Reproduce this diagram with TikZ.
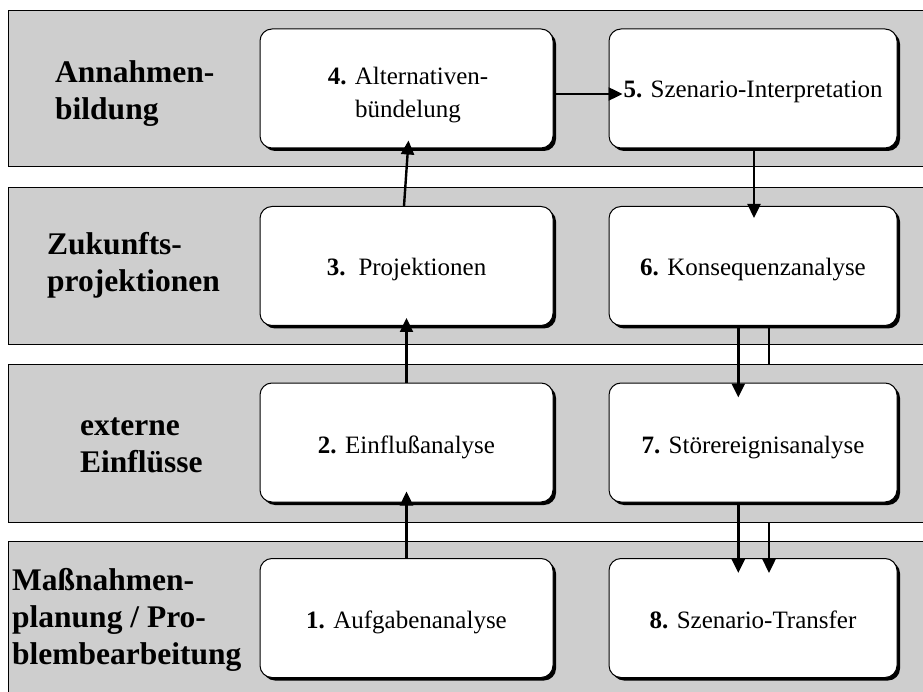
\documentclass[tikz,border=0pt]{standalone}
\usepackage{fontspec}
\setmainfont{Liberation Serif}
\usetikzlibrary{arrows.meta,shadows}
\definecolor{bandgray}{RGB}{206,206,206}
\tikzset{
  band/.style={draw=black, line width=0.9pt, fill=bandgray, anchor=north west,
    minimum width=930pt, inner sep=0pt},
  stepbox/.style={draw=black, line width=1pt, fill=white, rounded corners=12pt,
    minimum height=119pt, inner sep=0pt,
    drop shadow={shadow xshift=3pt, shadow yshift=-3pt, fill=black, opacity=1}},
  steptext/.style={inner sep=0pt, align=center, font=\fontsize{25}{32.5}\selectfont},
  lbl/.style={anchor=base west, inner sep=0pt, font=\fontsize{31.5}{37}\selectfont\bfseries},
  flow/.style={line width=2.4pt, -{Triangle[length=14pt,width=13pt]}},
  link/.style={line width=2.4pt},
}
\begin{document}
\begin{tikzpicture}[x=1pt,y=-1pt]
\useasboundingbox (0,0) rectangle (923,692);

% horizontal bands
\node[band, minimum height=156.5pt] (band1) at (8,10) {};
\node[band, minimum height=157pt]   (band2) at (8,187) {};
\node[band, minimum height=158pt]   (band3) at (8,363.5) {};
\node[band, minimum height=165pt]   (band4) at (8,540.5) {};

% band labels
\node[lbl] (l1a) at (55,83)  {Annahmen-};
\node[lbl] (l1b) at (55,120) {bildung};
\node[lbl] (l2a) at (47,255) {Zukunfts-};
\node[lbl] (l2b) at (47,292) {projektionen};
\node[lbl] (l3a) at (80,435) {externe};
\node[lbl] (l3b) at (80,472) {Einflüsse};
\node[lbl] (l4a) at (12,590) {Maßnahmen-};
\node[lbl] (l4b) at (12,627) {planung / Pro-};
\node[lbl] (l4c) at (12,664) {blembearbeitung};

% process step boxes
\node[stepbox, minimum width=293pt] (n4) at (406.5,88.5) {};
\node[stepbox, minimum width=288pt] (n5) at (753,88.5)   {};
\node[stepbox, minimum width=293pt] (n3) at (406.5,266)  {};
\node[stepbox, minimum width=288pt] (n6) at (753,266)    {};
\node[stepbox, minimum width=293pt] (n2) at (406.5,442.5) {};
\node[stepbox, minimum width=288pt] (n7) at (753,442.5)  {};
\node[stepbox, minimum width=293pt] (n1) at (406.5,618)  {};
\node[stepbox, minimum width=288pt] (n8) at (753,618)    {};

% step titles
\node[steptext] (t4) at (408,95) {\textbf{4.} Alternativen-\\bündelung};
\node[steptext, anchor=base] (t5) at (753,97.5) {\textbf{5.} Szenario-Interpretation};
\node[steptext, anchor=base] (t3) at (406.5,276) {\textbf{3.}\hspace{13pt}Projektionen};
\node[steptext, anchor=base] (t6) at (753,276) {\textbf{6.} Konsequenzanalyse};
\node[steptext, anchor=base] (t2) at (406.5,453) {\textbf{2.} Einflußanalyse};
\node[steptext, anchor=base] (t7) at (753,453) {\textbf{7.} Störereignisanalyse};
\node[steptext, anchor=base] (t1) at (406.5,628) {\textbf{1.} Aufgabenanalyse};
\node[steptext, anchor=base] (t8) at (753,628) {\textbf{8.} Szenario-Transfer};

% connectors
\draw[flow] (n1.north) -- ([yshift=11pt]n2.south);
\draw[flow] (n2.north) -- ([yshift=8pt]n3.south);
\draw[flow] ([xshift=-2.5pt]n3.north) -- ([xshift=2pt,yshift=8pt]n4.south);
\draw[flow] ([yshift=-5.5pt]n4.east) -- ([xshift=14pt,yshift=-5.5pt]n5.west);
\draw[flow] ([xshift=1pt]n5.south) -- ([xshift=1pt,yshift=-12pt]n6.north);
\draw[flow] ([xshift=-14.7pt]n6.south) -- ([xshift=-14.7pt,yshift=-15pt]n7.north);
\draw[link] ([xshift=16pt]n6.south) -- ([xshift=16pt]n6.south |- band3.north);
\draw[flow] ([xshift=-14.7pt]n7.south) -- ([xshift=-14.7pt,yshift=-15pt]n8.north);
\draw[flow] ([xshift=16pt]n7.south |- band3.south) -- ([xshift=16pt,yshift=-15pt]n8.north);
\end{tikzpicture}
\end{document}
